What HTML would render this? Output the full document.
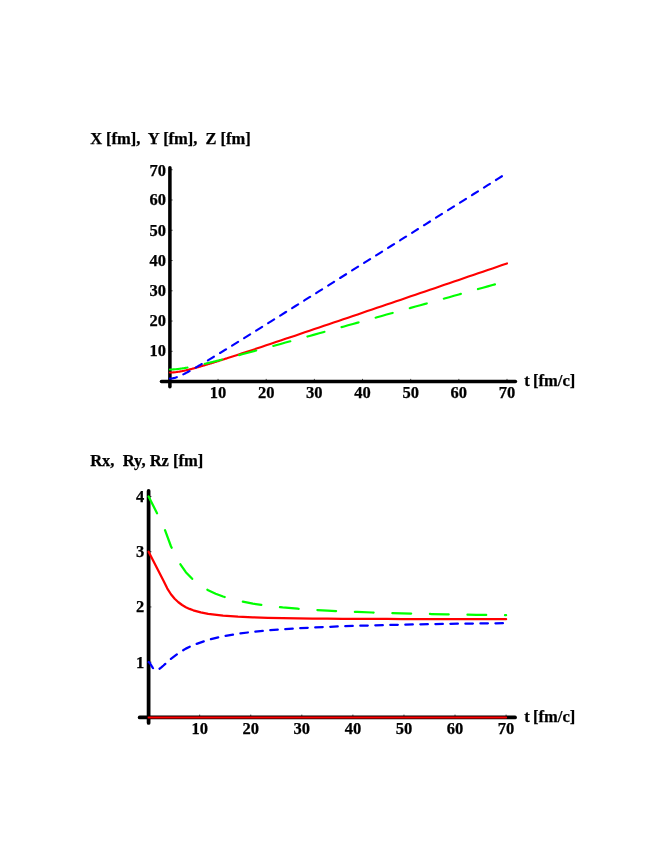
<!DOCTYPE html>
<html><head><meta charset="utf-8"><title>plot</title>
<style>
html,body{margin:0;padding:0;background:#fff;}
svg{display:block;will-change:transform;}
text{font-family:"Liberation Serif",serif;font-weight:bold;font-size:16.5px;fill:#000;stroke:#000;stroke-width:0.25px;}
</style></head><body>
<svg width="664" height="860" viewBox="0 0 664 860">
<rect x="0" y="0" width="664" height="860" fill="#fff"/>

<g stroke="#000" stroke-linecap="round" fill="none">
<line x1="161.47" y1="381.60" x2="515.43" y2="381.60" stroke-width="3.54"/>
<line x1="169.90" y1="386.81" x2="169.90" y2="167.84" stroke-width="3.54"/>
</g>
<g stroke="#000" stroke-width="0.7" stroke-linecap="butt">
<line x1="218.06" y1="381.60" x2="218.06" y2="378.89"/>
<line x1="266.21" y1="381.60" x2="266.21" y2="378.89"/>
<line x1="314.37" y1="381.60" x2="314.37" y2="378.89"/>
<line x1="362.53" y1="381.60" x2="362.53" y2="378.89"/>
<line x1="410.69" y1="381.60" x2="410.69" y2="378.89"/>
<line x1="458.84" y1="381.60" x2="458.84" y2="378.89"/>
<line x1="507.00" y1="381.60" x2="507.00" y2="378.89"/>
<line x1="169.90" y1="351.33" x2="172.61" y2="351.33"/>
<line x1="169.90" y1="321.06" x2="172.61" y2="321.06"/>
<line x1="169.90" y1="290.80" x2="172.61" y2="290.80"/>
<line x1="169.90" y1="260.53" x2="172.61" y2="260.53"/>
<line x1="169.90" y1="230.26" x2="172.61" y2="230.26"/>
<line x1="169.90" y1="199.99" x2="172.61" y2="199.99"/>
<line x1="169.90" y1="169.72" x2="172.61" y2="169.72"/>
</g>

<g fill="none" stroke-linecap="round" stroke-linejoin="round" stroke-width="2.12">
<polyline stroke="#ff0000" points="169.90,372.52 170.50,372.52 171.10,372.50 171.71,372.48 172.31,372.46 172.91,372.42 173.51,372.38 174.11,372.33 174.72,372.28 175.32,372.21 175.92,372.15 176.52,372.07 177.12,371.99 177.73,371.91 178.33,371.82 178.93,371.72 179.53,371.62 180.13,371.52 180.74,371.41 181.34,371.29 181.94,371.18 182.54,371.06 183.14,370.94 183.75,370.81 184.35,370.68 184.95,370.55 185.55,370.41 186.15,370.28 186.75,370.14 187.36,369.99 187.96,369.85 188.56,369.70 189.16,369.55 189.76,369.40 190.37,369.25 190.97,369.10 191.57,368.94 192.17,368.78 192.77,368.62 193.38,368.46 193.98,368.30 194.58,368.14 195.18,367.97 195.78,367.81 196.39,367.64 196.99,367.47 197.59,367.30 198.19,367.13 198.79,366.96 199.40,366.79 200.00,366.62 200.60,366.44 201.20,366.27 201.80,366.09 202.41,365.92 203.01,365.74 203.61,365.56 204.21,365.38 204.81,365.20 205.42,365.02 206.02,364.84 206.62,364.66 207.22,364.48 207.82,364.30 208.43,364.11 209.03,363.93 209.63,363.74 210.23,363.56 210.83,363.38 211.44,363.19 212.04,363.00 212.64,362.82 213.24,362.63 213.84,362.44 214.45,362.26 215.05,362.07 215.65,361.88 216.25,361.69 216.85,361.50 217.46,361.31 218.06,361.12 218.66,360.93 219.26,360.74 219.86,360.55 220.47,360.36 221.07,360.17 221.67,359.98 222.27,359.78 222.87,359.59 223.47,359.40 224.08,359.21 224.68,359.01 225.28,358.82 225.88,358.63 226.48,358.43 227.09,358.24 227.69,358.04 232.50,356.48 237.32,354.91 242.14,353.33 246.95,351.75 251.77,350.15 256.58,348.55 261.40,346.95 266.21,345.34 271.03,343.73 275.85,342.11 280.66,340.49 285.48,338.87 290.29,337.25 295.11,335.63 299.92,334.00 304.74,332.37 309.56,330.74 314.37,329.11 319.19,327.48 324.00,325.85 328.82,324.21 333.63,322.58 338.45,320.94 343.27,319.31 348.08,317.67 352.90,316.03 357.71,314.39 362.53,312.75 367.34,311.12 372.16,309.48 376.98,307.84 381.79,306.20 386.61,304.55 391.42,302.91 396.24,301.27 401.05,299.63 405.87,297.99 410.69,296.34 415.50,294.70 420.32,293.06 425.13,291.41 429.95,289.77 434.76,288.13 439.58,286.48 444.40,284.84 449.21,283.19 454.03,281.55 458.84,279.90 463.66,278.26 468.47,276.61 473.29,274.97 478.11,273.32 482.92,271.68 487.74,270.03 492.55,268.39 497.37,266.74 502.18,265.09 507.00,263.45"/>
<polyline stroke="#00ff00" stroke-dasharray="17.70 17.70" points="169.90,369.49 170.50,369.49 171.10,369.48 171.71,369.47 172.31,369.45 172.91,369.42 173.51,369.39 174.11,369.35 174.72,369.31 175.32,369.26 175.92,369.21 176.52,369.16 177.12,369.09 177.73,369.03 178.33,368.96 178.93,368.89 179.53,368.81 180.13,368.73 180.74,368.65 181.34,368.57 181.94,368.48 182.54,368.39 183.14,368.29 183.75,368.20 184.35,368.10 184.95,368.00 185.55,367.89 186.15,367.79 186.75,367.68 187.36,367.57 187.96,367.46 188.56,367.34 189.16,367.23 189.76,367.11 190.37,366.99 190.97,366.87 191.57,366.75 192.17,366.63 192.77,366.51 193.38,366.38 193.98,366.26 194.58,366.13 195.18,366.00 195.78,365.87 196.39,365.74 196.99,365.61 197.59,365.48 198.19,365.34 198.79,365.21 199.40,365.07 200.00,364.94 200.60,364.80 201.20,364.66 201.80,364.52 202.41,364.38 203.01,364.24 203.61,364.10 204.21,363.96 204.81,363.82 205.42,363.68 206.02,363.54 206.62,363.39 207.22,363.25 207.82,363.10 208.43,362.96 209.03,362.81 209.63,362.67 210.23,362.52 210.83,362.37 211.44,362.22 212.04,362.08 212.64,361.93 213.24,361.78 213.84,361.63 214.45,361.48 215.05,361.33 215.65,361.18 216.25,361.03 216.85,360.88 217.46,360.73 218.06,360.57 218.66,360.42 219.26,360.27 219.86,360.12 220.47,359.97 221.07,359.81 221.67,359.66 222.27,359.50 222.87,359.35 223.47,359.20 224.08,359.04 224.68,358.89 225.28,358.73 225.88,358.58 226.48,358.42 227.09,358.27 227.69,358.11 232.50,356.86 237.32,355.59 242.14,354.32 246.95,353.03 251.77,351.74 256.58,350.45 261.40,349.15 266.21,347.84 271.03,346.54 275.85,345.22 280.66,343.91 285.48,342.59 290.29,341.27 295.11,339.95 299.92,338.63 304.74,337.30 309.56,335.97 314.37,334.64 319.19,333.31 324.00,331.98 328.82,330.65 333.63,329.32 338.45,327.98 343.27,326.65 348.08,325.31 352.90,323.98 357.71,322.64 362.53,321.30 367.34,319.96 372.16,318.62 376.98,317.28 381.79,315.94 386.61,314.60 391.42,313.26 396.24,311.92 401.05,310.58 405.87,309.24 410.69,307.89 415.50,306.55 420.32,305.21 425.13,303.87 429.95,302.52 434.76,301.18 439.58,299.83 444.40,298.49 449.21,297.15 454.03,295.80 458.84,294.46 463.66,293.11 468.47,291.77 473.29,290.42 478.11,289.08 482.92,287.73 487.74,286.38 492.55,285.04 497.37,283.69 502.18,282.35 507.00,281.00"/>
<polyline stroke="#0000ff" stroke-dasharray="7.08 7.08" points="169.90,378.57 170.50,378.56 171.10,378.53 171.71,378.47 172.31,378.39 172.91,378.29 173.51,378.16 174.11,378.02 174.72,377.87 175.32,377.69 175.92,377.50 176.52,377.30 177.12,377.08 177.73,376.86 178.33,376.62 178.93,376.37 179.53,376.12 180.13,375.85 180.74,375.58 181.34,375.30 181.94,375.02 182.54,374.73 183.14,374.44 183.75,374.14 184.35,373.83 184.95,373.53 185.55,373.22 186.15,372.90 186.75,372.58 187.36,372.26 187.96,371.94 188.56,371.61 189.16,371.28 189.76,370.95 190.37,370.62 190.97,370.28 191.57,369.95 192.17,369.61 192.77,369.27 193.38,368.92 193.98,368.58 194.58,368.24 195.18,367.89 195.78,367.54 196.39,367.19 196.99,366.84 197.59,366.49 198.19,366.14 198.79,365.79 199.40,365.44 200.00,365.08 200.60,364.73 201.20,364.37 201.80,364.01 202.41,363.66 203.01,363.30 203.61,362.94 204.21,362.58 204.81,362.22 205.42,361.86 206.02,361.50 206.62,361.14 207.22,360.78 207.82,360.41 208.43,360.05 209.03,359.69 209.63,359.32 210.23,358.96 210.83,358.60 211.44,358.23 212.04,357.87 212.64,357.50 213.24,357.13 213.84,356.77 214.45,356.40 215.05,356.03 215.65,355.67 216.25,355.30 216.85,354.93 217.46,354.56 218.06,354.20 218.66,353.83 219.26,353.46 219.86,353.09 220.47,352.72 221.07,352.35 221.67,351.98 222.27,351.61 222.87,351.24 223.47,350.87 224.08,350.50 224.68,350.13 225.28,349.76 225.88,349.39 226.48,349.02 227.09,348.65 227.69,348.28 232.50,345.30 237.32,342.32 242.14,339.33 246.95,336.34 251.77,333.34 256.58,330.33 261.40,327.33 266.21,324.32 271.03,321.31 275.85,318.30 280.66,315.29 285.48,312.27 290.29,309.25 295.11,306.24 299.92,303.22 304.74,300.20 309.56,297.18 314.37,294.16 319.19,291.13 324.00,288.11 328.82,285.09 333.63,282.07 338.45,279.04 343.27,276.02 348.08,272.99 352.90,269.97 357.71,266.94 362.53,263.91 367.34,260.89 372.16,257.86 376.98,254.83 381.79,251.81 386.61,248.78 391.42,245.75 396.24,242.72 401.05,239.69 405.87,236.67 410.69,233.64 415.50,230.61 420.32,227.58 425.13,224.55 429.95,221.52 434.76,218.49 439.58,215.46 444.40,212.43 449.21,209.41 454.03,206.38 458.84,203.35 463.66,200.32 468.47,197.29 473.29,194.26 478.11,191.23 482.92,188.20 487.74,185.17 492.55,182.14 497.37,179.11 502.18,176.08 507.00,173.04"/>
</g>
<text x="218.06" y="398.00" text-anchor="middle">10</text>
<text x="266.21" y="398.00" text-anchor="middle">20</text>
<text x="314.37" y="398.00" text-anchor="middle">30</text>
<text x="362.53" y="398.00" text-anchor="middle">40</text>
<text x="410.69" y="398.00" text-anchor="middle">50</text>
<text x="458.84" y="398.00" text-anchor="middle">60</text>
<text x="507.00" y="398.00" text-anchor="middle">70</text>
<text x="165.90" y="356" text-anchor="end">10</text>
<text x="165.90" y="326" text-anchor="end">20</text>
<text x="165.90" y="296" text-anchor="end">30</text>
<text x="165.90" y="266" text-anchor="end">40</text>
<text x="165.90" y="236" text-anchor="end">50</text>
<text x="165.90" y="205" text-anchor="end">60</text>
<text x="165.90" y="176" text-anchor="end">70</text>
<text x="90.20" y="144.00" xml:space="preserve" style="white-space:pre;word-spacing:-0.13px">X [fm],  Y [fm],  Z [fm]</text>
<text x="524.30" y="386.00" style="word-spacing:-0.8px">t [fm/c]</text>
<g stroke="#000" stroke-linecap="round" fill="none">
<line x1="139.66" y1="717.45" x2="515.04" y2="717.45" stroke-width="3.75"/>
<line x1="148.60" y1="722.98" x2="148.60" y2="490.93" stroke-width="3.75"/>
</g>
<g stroke="#000" stroke-width="0.7" stroke-linecap="butt">
<line x1="199.67" y1="717.45" x2="199.67" y2="714.60"/>
<line x1="250.74" y1="717.45" x2="250.74" y2="714.60"/>
<line x1="301.81" y1="717.45" x2="301.81" y2="714.60"/>
<line x1="352.89" y1="717.45" x2="352.89" y2="714.60"/>
<line x1="403.96" y1="717.45" x2="403.96" y2="714.60"/>
<line x1="455.03" y1="717.45" x2="455.03" y2="714.60"/>
<line x1="506.10" y1="717.45" x2="506.10" y2="714.60"/>
<line x1="148.60" y1="662.20" x2="151.45" y2="662.20"/>
<line x1="148.60" y1="606.95" x2="151.45" y2="606.95"/>
<line x1="148.60" y1="551.70" x2="151.45" y2="551.70"/>
<line x1="148.60" y1="496.45" x2="151.45" y2="496.45"/>
</g>
<line x1="148.60" y1="717.50" x2="506.10" y2="717.50" stroke="#ff0000" stroke-linecap="round" stroke-width="2.05"/>
<g fill="none" stroke-linecap="round" stroke-linejoin="round" stroke-width="2.25">
<polyline stroke="#ff0000" points="148.60,551.70 163.50,580.83 167.22,588.36 170.94,594.24 174.67,598.78 178.39,602.28 182.12,605.02 185.84,607.18 189.56,608.90 193.29,610.30 200.74,612.39 208.18,613.85 223.08,615.68 237.97,616.74 252.87,617.40 267.77,617.84 282.66,618.15 297.56,618.38 312.45,618.54 327.35,618.67 342.25,618.77 357.14,618.85 372.04,618.91 386.93,618.97 401.83,619.01 416.73,619.05 431.62,619.08 446.52,619.10 461.41,619.13 476.31,619.15 491.20,619.16 506.10,619.18"/>
<polyline stroke="#00ff00" stroke-dasharray="18.77 18.77" points="148.60,496.45 163.50,526.08 170.94,546.24 178.39,561.35 185.84,572.16 193.29,580.00 200.74,585.82 208.18,590.27 215.63,593.75 223.08,596.54 237.97,600.68 252.87,603.61 267.77,605.76 282.66,607.41 297.56,608.72 312.45,609.77 327.35,610.64 342.25,611.36 357.14,611.98 372.04,612.50 386.93,612.96 401.83,613.37 416.73,613.72 431.62,614.03 446.52,614.32 461.41,614.57 476.31,614.80 491.20,615.01 506.10,615.20"/>
<polyline stroke="#0000ff" stroke-dasharray="7.51 7.51" points="148.60,662.20 149.07,662.33 149.53,662.70 150.00,663.27 150.46,663.99 151.39,665.63 152.32,667.21 152.79,667.89 153.25,668.47 153.72,668.96 154.19,669.35 154.65,669.64 155.12,669.84 155.58,669.97 156.05,670.01 156.51,669.99 156.98,669.92 157.44,669.78 157.91,669.61 158.84,669.13 159.77,668.54 161.63,667.11 163.50,665.49 167.22,662.11 170.94,658.84 178.39,653.15 185.84,648.62 193.29,645.02 208.18,639.81 223.08,636.28 237.97,633.75 252.87,631.86 267.77,630.40 282.66,629.24 297.56,628.29 312.45,627.51 327.35,626.86 342.25,626.30 357.14,625.81 372.04,625.39 386.93,625.02 401.83,624.69 416.73,624.40 431.62,624.14 446.52,623.90 461.41,623.69 476.31,623.49 491.20,623.32 506.10,623.15"/>
</g>
<text x="199.67" y="734.00" text-anchor="middle">10</text>
<text x="250.74" y="734.00" text-anchor="middle">20</text>
<text x="301.81" y="734.00" text-anchor="middle">30</text>
<text x="352.89" y="734.00" text-anchor="middle">40</text>
<text x="403.96" y="734.00" text-anchor="middle">50</text>
<text x="455.03" y="734.00" text-anchor="middle">60</text>
<text x="506.10" y="734.00" text-anchor="middle">70</text>
<text x="144.20" y="668" text-anchor="end">1</text>
<text x="144.20" y="612" text-anchor="end">2</text>
<text x="144.20" y="557" text-anchor="end">3</text>
<text x="144.20" y="502" text-anchor="end">4</text>
<text x="90.20" y="466.00" xml:space="preserve" style="white-space:pre;word-spacing:0.00px">Rx,  Ry, Rz [fm]</text>
<text x="524.30" y="722.00" style="word-spacing:-0.8px">t [fm/c]</text>
</svg></body></html>
